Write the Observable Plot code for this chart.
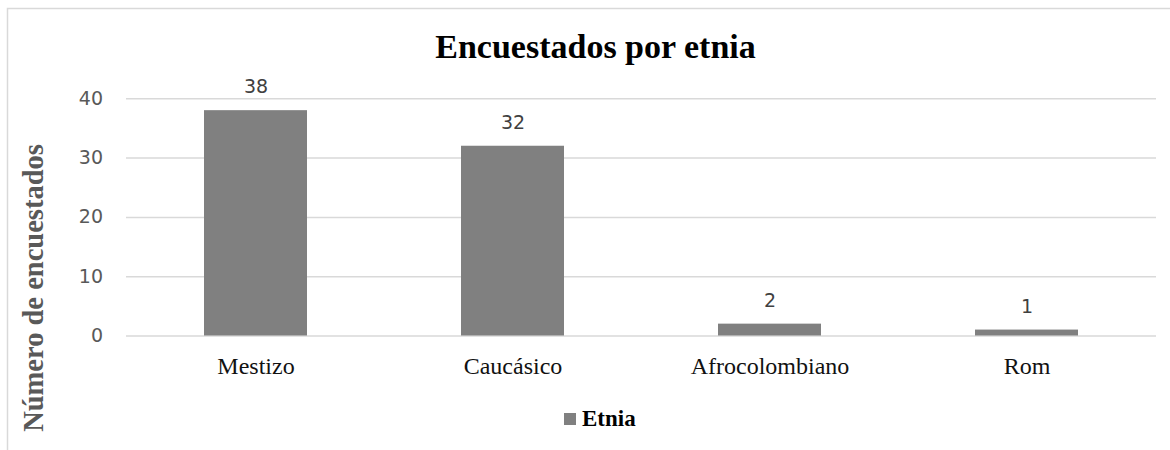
<!DOCTYPE html>
<html>
<head>
<meta charset="utf-8">
<script src="https://cdn.jsdelivr.net/npm/d3@7"></script>
<script src="https://cdn.jsdelivr.net/npm/@observablehq/plot@0.6"></script>
<style>
  html, body { margin: 0; padding: 0; background: #fff; overflow: hidden; }
  #chart svg { display: block; }
</style>
</head>
<body>
<div id="chart"></div>
<script>
// Respondents by ethnic group
const categories = ["Mestizo", "Caucásico", "Afrocolombiano", "Rom"];
const counts = [38, 32, 2, 1];
const yTicks = [0, 10, 20, 30, 40];
const seriesName = "Etnia";
const titleText = "Encuestados por etnia";
const yLabelText = "Número de encuestados";

const rows = categories.map((c, i) => ({ etnia: c, n: counts[i] }));

const W = 1170, H = 450;
const barColor = "#808080";
const gridColor = "#d9d9d9";

const chart = Plot.plot({
  width: W,
  height: H,
  marginLeft: 126,
  marginRight: 14,
  marginTop: 98.3,
  marginBottom: 114.5,
  style: { background: "#fff", overflow: "visible" },
  x: { domain: categories, paddingInner: 0.6, paddingOuter: 0.3, label: null },
  y: { domain: [0, 40], label: null, axis: null },
  marks: [
    Plot.gridY(yTicks, { stroke: gridColor, strokeOpacity: 1, strokeWidth: 1.5 }),
    Plot.barY(rows, { x: "etnia", y: "n", fill: barColor }),
    // value labels above bars
    Plot.text(rows, {
      x: "etnia", y: "n", text: d => String(d.n),
      lineAnchor: "bottom", dy: -17.5,
      fontFamily: "DejaVu Sans", fontSize: 19, fill: "#404040"
    }),
    // y tick labels, positioned by the y scale
    Plot.text(yTicks, {
      y: d => d, text: d => String(d),
      frameAnchor: "left", textAnchor: "end", dx: -23.5,
      fontFamily: "DejaVu Sans", fontSize: 19, fill: "#595959"
    }),
    Plot.axisX({
      tickSize: 0, tickPadding: 21, label: null,
      fontFamily: "Liberation Serif", fontSize: 24, color: "#111"
    })
  ]
});

const svg = d3.select(chart);

// chart area border
svg.insert("rect", ":first-child")
  .attr("x", 7.5).attr("y", 8.5)
  .attr("width", 1200).attr("height", 500)
  .attr("fill", "none").attr("stroke", gridColor).attr("stroke-width", 1.5);

// title
svg.append("text")
  .attr("x", 595.5).attr("y", 58)
  .attr("text-anchor", "middle")
  .attr("font-family", "Liberation Serif").attr("font-weight", "bold")
  .attr("font-size", 34).attr("fill", "#000")
  .text(titleText);

// y-axis title
svg.append("text")
  .attr("transform", "translate(43,288) rotate(-90)")
  .attr("text-anchor", "middle")
  .attr("font-family", "Liberation Serif").attr("font-weight", "bold")
  .attr("font-size", 28.5).attr("fill", "#595959")
  .text(yLabelText);

// legend
const legend = svg.append("g");
legend.append("rect")
  .attr("x", 564).attr("y", 413).attr("width", 12).attr("height", 12)
  .attr("fill", barColor);
legend.append("text")
  .attr("x", 582).attr("y", 426)
  .attr("text-anchor", "start")
  .attr("font-family", "Liberation Serif").attr("font-weight", "bold")
  .attr("font-size", 23).attr("fill", "#000")
  .text(seriesName);

document.getElementById("chart").appendChild(chart);
</script>
</body>
</html>
